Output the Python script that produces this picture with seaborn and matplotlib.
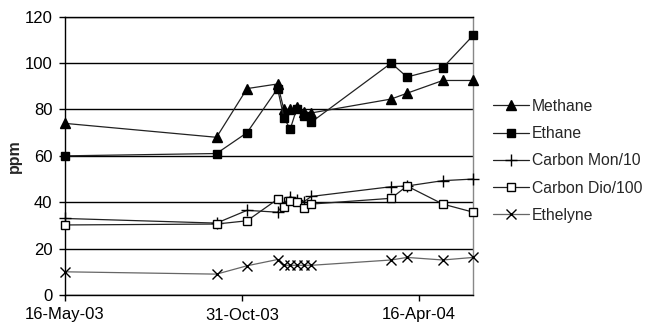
import matplotlib
matplotlib.use("Agg")
import matplotlib.pyplot as plt
import matplotlib.dates as mdates
import seaborn as sns
import pandas as pd

# Sampling dates
dates = ["2003-05-16", "2003-10-07", "2003-11-05", "2003-12-04", "2003-12-10",
         "2003-12-16", "2003-12-22", "2003-12-29", "2004-01-05", "2004-03-21",
         "2004-04-05", "2004-05-09", "2004-06-07"]

# Gas concentrations (ppm)
methane = [74, 68, 89, 91, 80, 80, 81, 79, 78.5, 84.5, 87, 92.5, 92.5]
ethane = [60, 61, 70, 89, 76.5, 71.5, 80, 77, 74.5, 100, 94, 98, 112]
carbon_mon_10 = [33, 31, 36.5, 35.7, 39.5, 42.4, 41, 40.2, 42.5, 46.7, 47, 49.3, 50]
carbon_dio_100 = [30.2, 30.6, 32, 41.3, 37.8, 40.5, 40.2, 37.6, 39.2, 41.7, 47, 39.2, 35.7]
ethelyne = [10, 9, 12.6, 15.3, 12.8, 12.8, 12.8, 12.8, 12.8, 15.1, 16.2, 15.1, 16.2]

labels = ["Methane", "Ethane", "Carbon Mon/10", "Carbon Dio/100", "Ethelyne"]
tick_dates = ["2003-05-16", "2003-10-31", "2004-04-16"]

x = pd.to_datetime(dates)

sns.set_theme(style="white")
plt.rcParams["font.family"] = ["Liberation Sans", "DejaVu Sans"]

fig = plt.figure(figsize=(6.54, 3.35), dpi=100)
ax = fig.add_axes([65 / 654, 1 - 295 / 335, (473.3 - 65) / 654, (295 - 16.7) / 335])

styles = [
    dict(marker="^", ms=7, mfc="black", color="#222222"),
    dict(marker="s", ms=6, mfc="black", color="#222222"),
    dict(marker="+", ms=9, mfc="black", color="#222222"),
    dict(marker="s", ms=6, mfc="white", color="#222222"),
    dict(marker="x", ms=7, mfc="black", color="#666666"),
]
series = [methane, ethane, carbon_mon_10, carbon_dio_100, ethelyne]

for vals, lab, st in zip(series, labels, styles):
    sns.lineplot(x=x, y=vals, ax=ax, label=lab, marker=st["marker"],
                 markersize=st["ms"], markerfacecolor=st["mfc"],
                 markeredgecolor="black", markeredgewidth=1.0,
                 color=st["color"], linewidth=0.9, clip_on=False, zorder=3)

ax.set_ylim(0, 120)
ax.set_yticks(range(0, 121, 20))
ax.set_xlim(pd.Timestamp(dates[0]), pd.Timestamp(dates[-1]))
ax.set_xticks(pd.to_datetime(tick_dates))
ax.xaxis.set_major_formatter(mdates.DateFormatter("%d-%b-%y"))

ax.yaxis.grid(True, color="black", linewidth=1.0)
ax.xaxis.grid(False)
ax.set_axisbelow(True)

for side in ["left", "bottom", "top"]:
    ax.spines[side].set_color("black")
    ax.spines[side].set_linewidth(1.0)
ax.spines["right"].set_color("#888888")
ax.spines["right"].set_linewidth(1.0)

ax.tick_params(axis="both", which="major", direction="out", length=4,
               width=1, color="black", labelsize=12, labelcolor="black")
ax.tick_params(axis="y", pad=5)
ax.tick_params(axis="x", pad=5, bottom=True)
ax.tick_params(axis="y", left=True)

ax.set_xlabel("")
ax.set_ylabel("ppm", fontsize=11.5, fontweight="bold", labelpad=2)

ax.legend(loc="upper left", bbox_to_anchor=(485 / 654, 1 - 91 / 335),
          bbox_transform=fig.transFigure, frameon=False, fontsize=11.3,
          handlelength=2.3, labelspacing=0.78, handletextpad=0.2,
          borderpad=0)

fig.savefig("out.png", dpi=100)
